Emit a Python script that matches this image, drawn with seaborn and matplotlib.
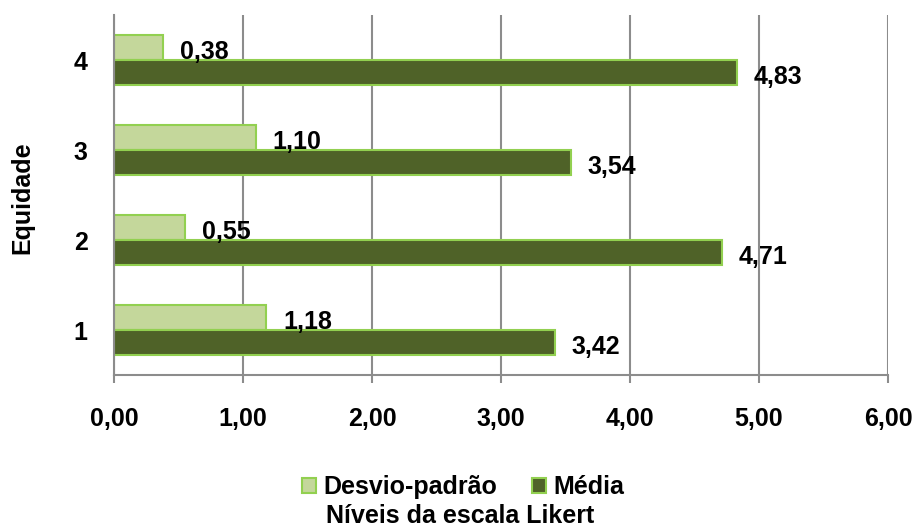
import matplotlib
matplotlib.use("Agg")
import matplotlib.pyplot as plt
from matplotlib.patches import Patch
import seaborn as sns
import pandas as pd

# Data
categorias = ["4", "3", "2", "1"]
desvio_padrao = [0.38, 1.10, 0.55, 1.18]
media = [4.83, 3.54, 4.71, 3.42]
series = ["Desvio-padrão", "Média"]
x_ticks = [0, 1, 2, 3, 4, 5, 6]

df = pd.DataFrame({
    "Equidade": categorias * 2,
    "valor": desvio_padrao + media,
    "serie": [series[0]] * len(categorias) + [series[1]] * len(categorias),
})

sns.set_theme(style="white")
plt.rcParams["font.family"] = ["Liberation Sans", "DejaVu Sans"]
plt.rcParams["font.weight"] = "bold"
plt.rcParams["text.color"] = "black"

cor_clara = "#C4D79B"
cor_escura = "#4F6228"
cor_borda = "#92D050"
cinza = "#8C8C8C"
fs = 18

fig = plt.figure(figsize=(9.15, 5.29), dpi=100)
ax = fig.add_axes([114 / 915, 1 - 375 / 529, (888 - 114) / 915, (375 - 15) / 529])

sns.barplot(
    data=df, y="Equidade", x="valor", hue="serie",
    order=categorias, hue_order=series,
    palette=[cor_clara, cor_escura], saturation=1, orient="h",
    width=0.56, edgecolor=cor_borda, linewidth=1.5,
    ax=ax, legend=False,
)

# Value labels next to each bar
for container, valores in zip(ax.containers, [desvio_padrao, media]):
    for barra, v in zip(container, valores):
        y = barra.get_y() + barra.get_height() / 2
        ax.annotate(
            f"{v:.2f}".replace(".", ","),
            xy=(v, y), xytext=(12, -3), textcoords="offset points",
            ha="left", va="center", fontsize=fs, fontweight="bold", color="black",
        )

ax.set_xlim(0, 6)
ax.set_xticks(x_ticks)
ax.set_xticklabels([f"{t:.2f}".replace(".", ",") for t in x_ticks])
ax.grid(axis="x", color=cinza, linewidth=1.5)
ax.grid(axis="y", visible=False)
ax.set_axisbelow(True)

for lado in ["top", "right"]:
    ax.spines[lado].set_visible(False)
for lado in ["left", "bottom"]:
    ax.spines[lado].set_color(cinza)
    ax.spines[lado].set_linewidth(1.5)

ax.tick_params(axis="x", bottom=True, length=6, width=1.5, color=cinza,
               pad=17, labelsize=fs, labelcolor="black")
ax.tick_params(axis="y", left=False, length=0, pad=19, labelsize=fs,
               labelcolor="black")
for lbl in ax.get_xticklabels() + ax.get_yticklabels():
    lbl.set_fontweight("bold")

ax.set_xlabel("")
ax.set_ylabel("")
fig.text(22 / 915, 1 - 198 / 529, "Equidade", rotation=90, ha="center", va="center",
         fontsize=fs, fontweight="bold", color="black")
fig.text(460 / 915, 1 - 516 / 529, "Níveis da escala Likert", ha="center", va="center",
         fontsize=fs, fontweight="bold", color="black")

handles = [
    Patch(facecolor=cor_clara, edgecolor=cor_borda, linewidth=1.5, label=series[0]),
    Patch(facecolor=cor_escura, edgecolor=cor_borda, linewidth=1.5, label=series[1]),
]
fig.legend(handles=handles, loc="center", bbox_to_anchor=(463 / 915, 1 - 487 / 529),
           ncol=2, frameon=False, handlelength=0.55, handleheight=0.55,
           handletextpad=0.3, columnspacing=1.4, labelcolor="black",
           prop={"size": fs, "weight": "bold"})

fig.savefig("out.png", dpi=100)
